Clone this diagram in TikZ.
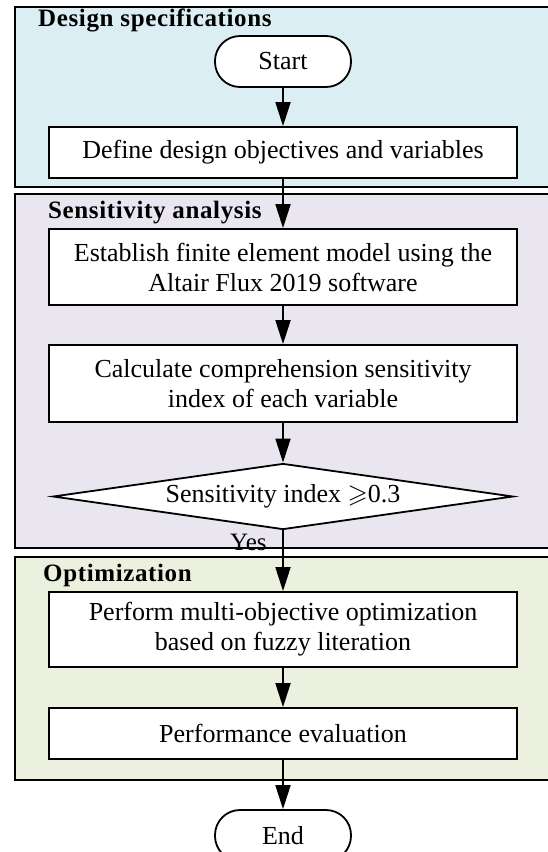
\documentclass[tikz,border=0pt]{standalone}
\usepackage{fontspec}
\usepackage{amssymb}
\setmainfont{Liberation Serif}
\usetikzlibrary{shapes.geometric,arrows.meta}
\definecolor{pblue}{HTML}{DAEEF3}
\definecolor{ppurple}{HTML}{E9E6EF}
\definecolor{pgreen}{HTML}{EBF1DE}
\begin{document}
\begin{tikzpicture}[x=1pt,y=-1pt,
  panel/.style={draw=black,line width=1.8pt},
  box/.style={draw=black,fill=white,line width=1.8pt,minimum width=468pt,align=center,
    font=\fontsize{26}{30}\selectfont,inner sep=0pt},
  term/.style={draw=black,fill=white,line width=1.8pt,rounded corners=25pt,
    minimum width=136pt,minimum height=51pt,font=\fontsize{26}{30}\selectfont,inner sep=0pt},
  ptitle/.style={anchor=west,font=\fontsize{25}{30}\selectfont\bfseries\addfontfeatures{LetterSpace=2.5},inner sep=0pt},
  flow/.style={line width=1.8pt,-{Triangle[length=24pt,width=15pt]}}]
\useasboundingbox (0,0) rectangle (547,852);
% panels
\path[panel,fill=pblue] (15,7) rectangle (570,187);
\path[panel,fill=ppurple] (15,194) rectangle (570,548);
\path[panel,fill=pgreen] (15,557) rectangle (570,780);
% titles
\node[ptitle] (t1) at (38,20) {Design specifications};
\node[ptitle] (t2) at (48,213) {Sensitivity analysis};
\node[ptitle] (t3) at (43,575) {Optimization};
% nodes
\node[term] (start) at (283,61.5) {Start};
\node[box,minimum height=51pt] (define) at (283,152.5) {Define design objectives and variables};
\node[box,minimum height=76pt] (establish) at (283,267) {Establish finite element model using the\\Altair Flux 2019 software};
\node[box,minimum height=77pt] (calc) at (283,383.5) {Calculate comprehension sensitivity\\index of each variable};
\node[draw=black,fill=white,diamond,shape aspect=7,line width=1.8pt,minimum width=460pt,minimum height=66pt,
  inner sep=0pt,font=\fontsize{26}{30}\selectfont] (dec) at (283,496.5) {Sensitivity index $\geqslant$0.3};
\node[anchor=base west,inner sep=0pt,font=\fontsize{25}{30}\selectfont] (yes) at (230,550) {Yes};
\node[box,minimum height=75pt] (perform) at (283,629.5) {Perform multi-objective optimization\\based on fuzzy literation};
\node[box,minimum height=51pt] (perf) at (283,733.5) {Performance evaluation};
\node[term] (end) at (283,835.5) {End};
% connectors
\draw[flow] (start) -- (define);
\draw[flow] (define) -- (establish);
\draw[flow] (establish) -- (calc);
\draw[flow] (calc) -- (dec);
\draw[flow] (dec) -- (perform);
\draw[flow] (perform) -- (perf);
\draw[flow] (perf) -- (end);
\end{tikzpicture}
\end{document}
